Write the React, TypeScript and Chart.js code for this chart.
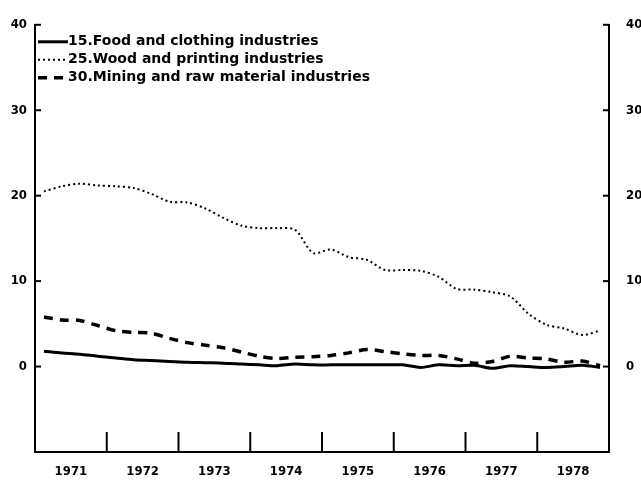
import React, { useEffect, useRef } from "react";
import { Chart, registerables } from "chart.js";

Chart.register(...registerables);

// ---- data ----
const years = [1971, 1972, 1973, 1974, 1975, 1976, 1977, 1978];
const yearLabels = ["1971", "1972", "1973", "1974", "1975", "1976", "1977", "1978"];
const quarterLabels = years.flatMap((y) => ["Q1", "Q2", "Q3", "Q4"].map((q) => `${y}${q}`));

const foodClothing = [
  1.8, 1.6, 1.45, 1.2,
  1.0, 0.8, 0.7, 0.6,
  0.5, 0.45, 0.4, 0.3,
  0.2, 0.1, 0.3, 0.2,
  0.2, 0.2, 0.2, 0.2,
  0.2, -0.1, 0.2, 0.1,
  0.15, -0.2, 0.1, 0.0,
  -0.1, 0.0, 0.15, -0.1,
];
const woodPrinting = [
  20.5, 21.1, 21.4, 21.2,
  21.1, 20.9, 20.2, 19.3,
  19.2, 18.5, 17.4, 16.5,
  16.2, 16.2, 16.0, 13.3,
  13.7, 12.8, 12.5, 11.3,
  11.3, 11.2, 10.5, 9.1,
  9.0, 8.7, 8.2, 6.2,
  4.9, 4.45, 3.7, 4.2,
];
const miningRaw = [
  5.8, 5.45, 5.4, 4.8,
  4.2, 4.0, 3.9, 3.3,
  2.8, 2.5, 2.2, 1.7,
  1.2, 0.95, 1.1, 1.15,
  1.3, 1.6, 2.0, 1.75,
  1.5, 1.3, 1.3, 0.9,
  0.4, 0.6, 1.2, 1.0,
  0.9, 0.5, 0.65, 0.1,
];
const seriesNames = [
  "15.Food and clothing industries",
  "25.Wood and printing industries",
  "30.Mining and raw material industries",
];
const yTickValues = [0, 10, 20, 30, 40];
const yMin = -10;
const yMax = 40;

const AXIS_FONT = { family: "'DejaVu Sans Condensed', 'DejaVu Sans', sans-serif", size: 13, weight: "bold" as const };
const LEGEND_FONT = "bold 14px 'DejaVu Sans', sans-serif";

const decorations = {
  id: "decorations",
  afterDraw(chart: any) {
    const { ctx, chartArea: a } = chart;
    const yS = chart.scales.y;
    const xY = chart.scales.xYears;
    const seg = (x1: number, y1: number, x2: number, y2: number) => {
      ctx.beginPath();
      ctx.moveTo(x1, y1);
      ctx.lineTo(x2, y2);
      ctx.stroke();
    };
    ctx.save();
    ctx.strokeStyle = "#000";
    ctx.lineWidth = 2;
    ctx.setLineDash([]);
    yTickValues.forEach((v) => {
      const py = yS.getPixelForValue(v);
      seg(a.left, py, a.left + 6, py);
      seg(a.right - 6, py, a.right, py);
    });
    years.slice(1).forEach((yr) => {
      const px = xY.getPixelForValue(yr);
      seg(px, a.bottom, px, a.bottom - 20);
    });
    // legend
    chart.data.datasets.forEach((ds: any, i: number) => {
      const y = a.top + 17 + i * 18;
      ctx.save();
      ctx.strokeStyle = "#000";
      ctx.lineWidth = ds.borderWidth;
      ctx.setLineDash(ds.borderDash || []);
      seg(a.left + 3, y, a.left + 33, y);
      ctx.restore();
      ctx.fillStyle = "#000";
      ctx.font = LEGEND_FONT;
      ctx.textBaseline = "middle";
      ctx.textAlign = "left";
      ctx.fillText(seriesNames[i], a.left + 33, y);
    });
    ctx.restore();
  },
};

export default function App() {
  const canvasRef = useRef<HTMLCanvasElement | null>(null);

  useEffect(() => {
    const canvas = canvasRef.current;
    if (!canvas) return;
    const yScaleCommon = (pos: "left" | "right", width: number, padding: number) => ({
      type: "linear" as const,
      position: pos,
      min: yMin,
      max: yMax,
      grid: { display: false, drawTicks: false },
      border: { display: true, width: 2, color: "#000" },
      ticks: { color: "#000", font: AXIS_FONT, padding },
      afterBuildTicks: (s: any) => {
        s.ticks = yTickValues.map((v) => ({ value: v }));
      },
      afterFit: (s: any) => {
        s.width = width;
      },
    });
    const chart = new Chart(canvas, {
      type: "line",
      data: {
        labels: quarterLabels,
        datasets: [
          {
            label: seriesNames[0],
            data: foodClothing,
            borderColor: "#000",
            borderWidth: 3,
            borderDash: [],
            pointRadius: 0,
            tension: 0.3,
            fill: false,
            xAxisID: "x",
            yAxisID: "y",
          },
          {
            label: seriesNames[1],
            data: woodPrinting,
            borderColor: "#000",
            borderWidth: 2,
            borderDash: [2, 3],
            pointRadius: 0,
            tension: 0.3,
            fill: false,
            xAxisID: "x",
            yAxisID: "y",
          },
          {
            label: seriesNames[2],
            data: miningRaw,
            borderColor: "#000",
            borderWidth: 3.5,
            borderDash: [9, 7],
            pointRadius: 0,
            tension: 0.3,
            fill: false,
            xAxisID: "x",
            yAxisID: "y",
          },
        ],
      },
      options: {
        responsive: false,
        animation: false,
        devicePixelRatio: 1,
        layout: { padding: { top: 15, left: 0, right: 0, bottom: 0 } },
        plugins: { legend: { display: false }, tooltip: { enabled: false } },
        scales: {
          x: { type: "category", offset: true, display: false },
          xYears: {
            type: "linear",
            position: "bottom",
            min: years[0],
            max: years[years.length - 1] + 1,
            grid: { display: false, drawTicks: false },
            border: { display: true, width: 2, color: "#000" },
            ticks: {
              color: "#000",
              font: AXIS_FONT,
              padding: 12,
              autoSkip: false,
              maxRotation: 0,
              callback: (v: any) => {
                const i = years.indexOf(Math.round(Number(v) - 0.5));
                return i >= 0 ? yearLabels[i] : "";
              },
            },
            afterBuildTicks: (s: any) => {
              s.ticks = years.map((y) => ({ value: y + 0.5 }));
            },
            afterFit: (s: any) => {
              s.height = 28;
            },
          },
          y: yScaleCommon("left", 35, 8),
          y2: yScaleCommon("right", 32, 17),
        },
      },
      plugins: [decorations],
    } as any);
    return () => chart.destroy();
  }, []);

  return (
    <div style={{ position: "absolute", left: 0, top: 0, width: 641, height: 480, background: "#fff" }}>
      <canvas ref={canvasRef} width={641} height={480} style={{ display: "block" }} />
    </div>
  );
}
